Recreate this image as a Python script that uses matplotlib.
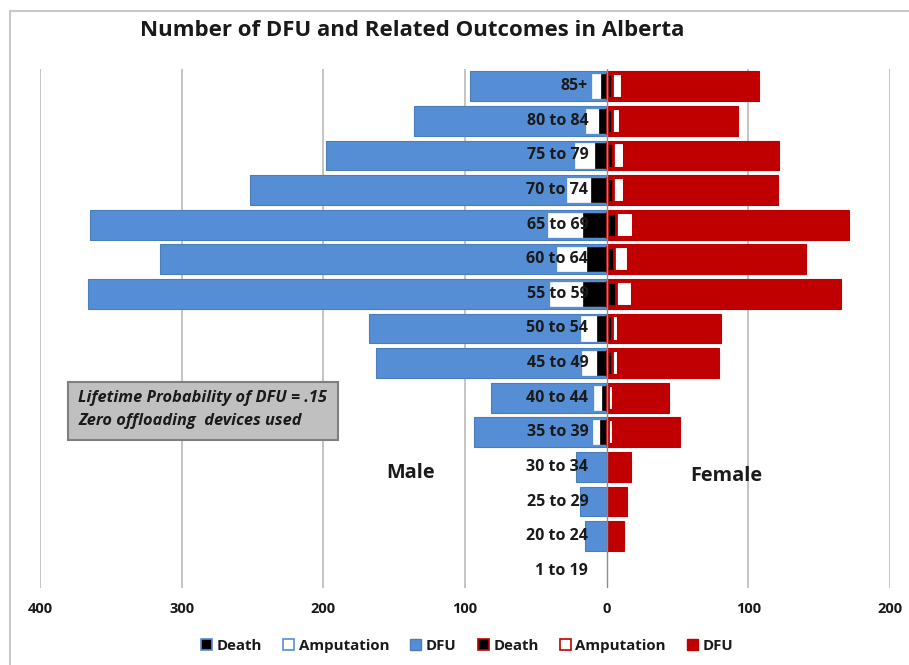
import matplotlib
matplotlib.use("Agg")
import matplotlib.pyplot as plt
from matplotlib.patches import Rectangle, Patch
from matplotlib.ticker import FuncFormatter
from matplotlib.transforms import offset_copy
import numpy as np

plt.rcParams['font.family'] = ['Open Sans', 'DejaVu Sans']

categories = ["1 to 19", "20 to 24", "25 to 29", "30 to 34", "35 to 39", "40 to 44",
              "45 to 49", "50 to 54", "55 to 59", "60 to 64", "65 to 69", "70 to 74",
              "75 to 79", "80 to 84", "85+"]
male_dfu = [0, 15.2, 18.7, 21.5, 93.5, 81.5, 162.7, 167.6, 366, 315, 364.5, 251.6, 198, 135.9, 96.3]
male_amp = [0, 0, 0, 0, 9.9, 8.8, 17.7, 18.4, 40, 35, 41.4, 28, 22.5, 14.6, 10.6]
male_death = [0, 0, 0, 0, 4.7, 3.5, 7, 7, 16.5, 14, 16.5, 11, 8.3, 5.2, 4]
female_dfu = [0, 11.9, 14.7, 17, 51.9, 44, 79.4, 80.8, 165.5, 140.8, 171, 121, 121.7, 92.5, 107.6]
female_amp = [0, 0, 0, 0, 4.7, 4.3, 7.8, 7.8, 17.7, 15, 18.4, 12.5, 12.5, 9.4, 11]
female_death = [0, 0, 0, 0, 1.2, 1.2, 3.5, 3.5, 6.6, 5.4, 6.6, 4.7, 4.7, 3.5, 3.5]
xticks = [-400, -300, -200, -100, 0, 100, 200]

W, H = 909, 665
fig = plt.figure(figsize=(W / 100, H / 100), dpi=100)

def fx(px):
    return px / W

def fy(py):
    return 1 - py / H

ax = fig.add_axes([fx(40), fy(588), fx(890) - fx(40), fy(69) - fy(588)])

BLUE = '#558ED5'
BLUE_EDGE = '#4A7EBB'
RED = '#C00000'

def edges(vals, color):
    return [color if v > 0 else 'none' for v in vals]

y = np.arange(len(categories))
ax.barh(y, -np.array(male_dfu), height=0.86, color=BLUE, edgecolor=edges(male_dfu, BLUE_EDGE),
        linewidth=0.8, zorder=2)
ax.barh(y, -np.array(male_amp), height=0.7, color='white', edgecolor=edges(male_amp, 'white'),
        linewidth=0.5, zorder=3)
ax.barh(y, -np.array(male_death), height=0.7, color='black', edgecolor=edges(male_death, 'black'),
        linewidth=0.5, zorder=4)
ax.barh(y, female_dfu, height=0.86, color=RED, edgecolor=edges(female_dfu, RED), linewidth=0.8, zorder=2)
ax.barh(y, female_amp, height=0.7, color='white', edgecolor=edges(female_amp, RED), linewidth=1.5, zorder=3)
ax.barh(y, female_death, height=0.7, color='black', edgecolor=edges(female_death, RED), linewidth=2.0, zorder=4)

ax.set_xlim(-400, 200)
ax.set_ylim(-0.5, 14.5)
for xv in xticks:
    if xv != 0:
        ax.axvline(xv, color='#BFBFBF', lw=1.3, zorder=0)
ax.axvline(0, color='#8C8C8C', lw=1.0, zorder=6)

for s in ax.spines.values():
    s.set_visible(False)
ax.set_yticks([])
ax.set_xticks(xticks)
ax.xaxis.set_major_formatter(FuncFormatter(lambda v, p: f"{abs(int(v))}"))
ax.tick_params(axis='x', length=0, pad=10, labelsize=10.5)
for lab in ax.get_xticklabels():
    lab.set_fontweight('bold')
    lab.set_color('#1a1a1a')

lab_tr = offset_copy(ax.transData, fig=fig, x=-18.5, y=0, units='dots')
for yi, c in zip(y, categories):
    ax.text(0, yi, c, transform=lab_tr, ha='right', va='center', fontsize=11.5,
            fontweight='bold', color='#1a1a1a', zorder=10)

fig.text(fx(412), fy(31), "Number of DFU and Related Outcomes in Alberta", ha='center', va='center',
         fontsize=16, fontweight='bold', color='#1a1a1a')
fig.text(fx(411), fy(473), "Male", ha='center', va='center', fontsize=14.3, fontweight='bold', color='#1a1a1a')
fig.text(fx(726), fy(476), "Female", ha='center', va='center', fontsize=14.3, fontweight='bold', color='#1a1a1a')

# annotation box
fig.patches.append(Rectangle((fx(68), fy(440)), fx(338) - fx(68), fy(382) - fy(440),
                             transform=fig.transFigure, facecolor='#C0C0C0', edgecolor='#7F7F7F',
                             lw=1.5, zorder=5))
fig.text(fx(78), fy(398), "Lifetime Probability of DFU = .15", ha='left', va='center', fontsize=11.8,
         fontweight='bold', style='italic', color='#1a1a1a', zorder=6)
fig.text(fx(78), fy(421), "Zero offloading  devices used", ha='left', va='center', fontsize=11.8,
         fontweight='bold', style='italic', color='#1a1a1a', zorder=6)

# chart frame
fig.patches.append(Rectangle((fx(10), -0.1), 1.2, fy(11) + 0.1, transform=fig.transFigure,
                             fill=False, edgecolor='#C8C8C8', lw=1.5))

handles = [
    Patch(facecolor='black', edgecolor=BLUE, lw=1.2, label='Death'),
    Patch(facecolor='white', edgecolor=BLUE, lw=1.2, label='Amputation'),
    Patch(facecolor=BLUE, edgecolor=BLUE_EDGE, lw=1.0, label='DFU'),
    Patch(facecolor='black', edgecolor=RED, lw=1.2, label='Death'),
    Patch(facecolor='white', edgecolor=RED, lw=1.2, label='Amputation'),
    Patch(facecolor=RED, edgecolor=RED, lw=1.0, label='DFU'),
]
leg = fig.legend(handles=handles, loc='center', bbox_to_anchor=(fx(467), fy(646)), ncol=6,
                 frameon=False, handlelength=0.75, handleheight=0.75, handletextpad=0.3,
                 columnspacing=1.4, prop={'size': 10.8, 'weight': 'bold'})
for t in leg.get_texts():
    t.set_color('#1a1a1a')

fig.savefig("out.png", dpi=100)
